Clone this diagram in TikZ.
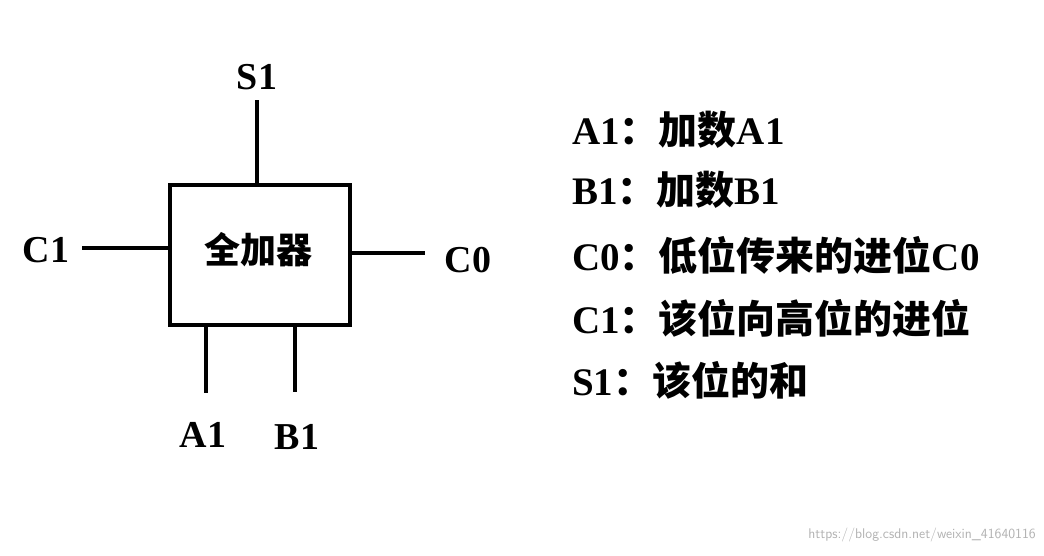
\documentclass[tikz,border=0pt]{standalone}
\usepackage{fontspec}
\setmainfont{Liberation Serif}
\newfontfamily\cjk{Noto Sans CJK SC}
\begin{document}
\begin{tikzpicture}[x=1pt,y=-1pt,
  wire/.style={line width=4pt},
  lbl/.style={font=\fontsize{38}{40}\selectfont\bfseries, inner sep=0pt},
  desc/.style={font=\fontsize{39}{40}\selectfont\bfseries, inner sep=0pt, anchor=west}]
\useasboundingbox[fill=white] (0,0) rectangle (1044,555);
\node[draw, line width=4pt, minimum width=180pt, minimum height=140pt, inner sep=0pt] (fa) at (260,255) {};
\node[font=\fontsize{36}{40}\selectfont\cjk\bfseries] (t) at (258,250) {全加器};
\coordinate (s1a) at (257,185); \coordinate (s1b) at (257,100);
\coordinate (c1a) at (170,248); \coordinate (c1b) at (82,248);
\coordinate (c0a) at (350,253); \coordinate (c0b) at (425,253);
\coordinate (a1a) at (206,325); \coordinate (a1b) at (206,393);
\coordinate (b1a) at (295,325); \coordinate (b1b) at (295,392);
\draw[wire] (s1a) -- (s1b);
\draw[wire] (c1a) -- (c1b);
\draw[wire] (c0a) -- (c0b);
\draw[wire] (a1a) -- (a1b);
\draw[wire] (b1a) -- (b1b);
\node[lbl] (ls1) at (257,77) {S1};
\node[lbl] (lc1) at (46,250) {C1};
\node[lbl] (lc0) at (468,260) {C0};
\node[lbl] (la1) at (203,435) {A1};
\node[lbl] (lb1) at (297,437) {B1};
\node[desc] (d1) at (572,130) {A1{\cjk ：加数}A1};
\node[desc] (d2) at (572,190) {B1{\cjk ：加数}B1};
\node[desc] (d3) at (572,255) {C0{\cjk ：低位传来的进位}C0};
\node[desc] (d4) at (572,318) {C1{\cjk ：该位向高位的进位}};
\node[desc] (d5) at (572,380) {S1{\cjk ：该位的和}};
\node[font=\fontsize{14}{16}\selectfont\sffamily, text=gray!60, anchor=east, inner sep=0pt] (wm) at (1036,535) {https://blog.csdn.net/weixin\_41640116};
\end{tikzpicture}
\end{document}
